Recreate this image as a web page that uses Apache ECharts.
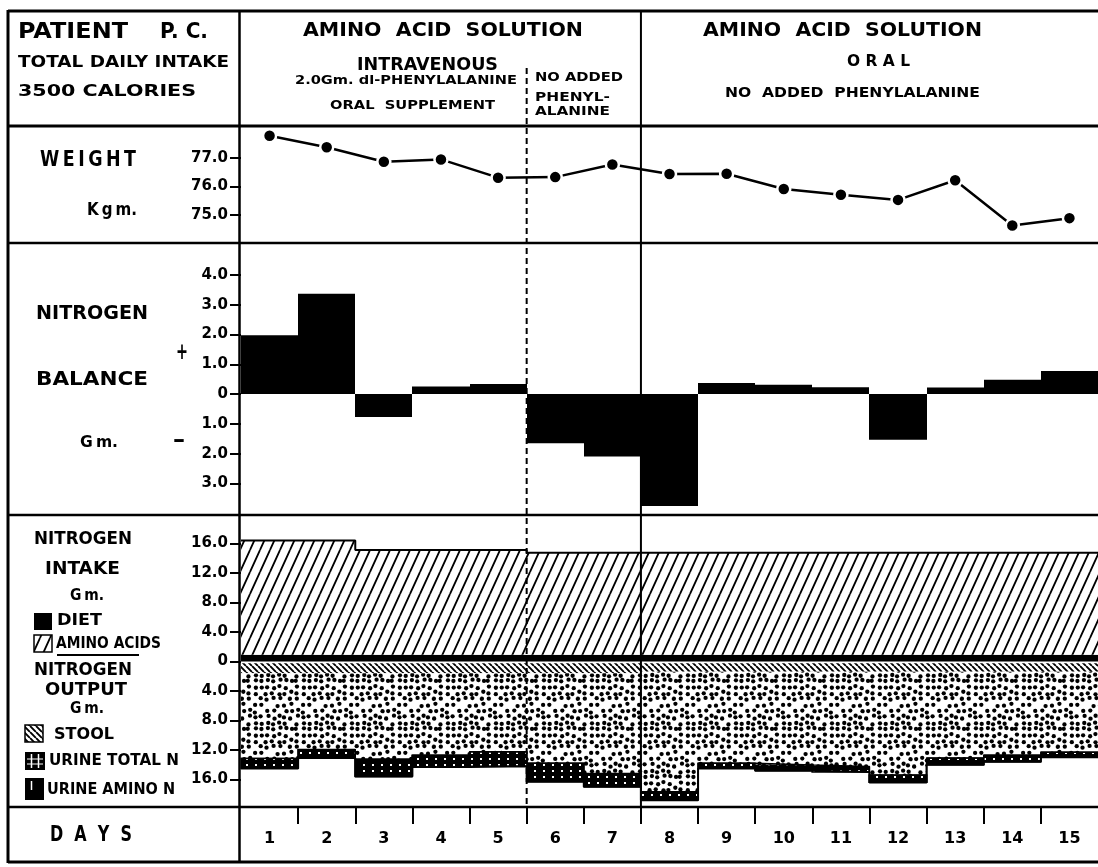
<!DOCTYPE html>
<html>
<head>
<meta charset="utf-8">
<script src="https://cdn.jsdelivr.net/npm/echarts@6.0.0/dist/echarts.min.js"></script>
<style>html,body{margin:0;padding:0;background:#fff;}#chart{width:1098px;height:867px;}</style>
</head>
<body>
<div id="chart"></div>
<script>
// ---------------- data ----------------
const days = [1, 2, 3, 4, 5, 6, 7, 8, 9, 10, 11, 12, 13, 14, 15];
const weightKg = [77.78, 77.38, 76.87, 76.95, 76.31, 76.33, 76.77, 76.44, 76.45, 75.91, 75.71, 75.53, 76.22, 74.63, 74.89];
const nitrogenBalanceGm = [1.97, 3.37, -0.77, 0.25, 0.34, -1.65, -2.1, -3.76, 0.37, 0.31, 0.23, -1.53, 0.22, 0.48, 0.77];
const dietN = [0.9, 0.9, 0.9, 0.9, 0.9, 0.9, 0.9, 0.9, 0.9, 0.9, 0.9, 0.9, 0.9, 0.9, 0.9];
const aminoAcidN = [15.5, 15.5, 14.2, 14.2, 14.2, 13.85, 13.85, 13.85, 13.85, 13.85, 13.85, 13.85, 13.85, 13.85, 13.85];
const stoolN = [1.6, 1.6, 1.6, 1.6, 1.6, 1.6, 1.6, 1.4, 1.4, 1.4, 1.4, 1.4, 1.4, 1.4, 1.4];
const urineTotalN = [12.9, 11.5, 14.0, 12.7, 12.6, 14.7, 15.4, 17.4, 13.1, 13.4, 13.6, 15.0, 12.6, 12.2, 11.6];
const urineAminoN = [1.35, 1.15, 2.35, 1.6, 1.95, 2.5, 1.8, 1.15, 0.7, 0.75, 0.75, 1.0, 0.9, 0.9, 0.7];
const weightTicks = [75, 76, 77];
const balanceTicks = [-3, -2, -1, 0, 1, 2, 3, 4];
const nitrogenTicks = [-16, -12, -8, -4, 0, 4, 8, 12, 16];
const dayBoundaries = [1, 2, 3, 4, 5, 6, 7, 8, 9, 10, 11, 12, 13, 14];
const noPheBoundary = 5;   // dashed divider (after day 5)
const oralBoundary = 7;    // solid divider (after day 7)

// ---------------- patterns ----------------
function makeCanvas(w, h, draw) {
  const c = document.createElement('canvas'); c.width = w; c.height = h;
  draw(c.getContext('2d'), w, h); return c;
}
function hash(a, b) { const s = Math.sin(a * 127.1 + b * 311.7) * 43758.5453; return s - Math.floor(s); }
const aminoHatch = makeCanvas(10, 22, (g, w, h) => {
  g.fillStyle = '#fff'; g.fillRect(0, 0, w, h);
  g.strokeStyle = '#000'; g.lineWidth = 1.8; g.beginPath();
  for (const o of [-w, 0, w]) { g.moveTo(o, h); g.lineTo(o + w, 0); }
  g.stroke();
});
const stoolHatch = makeCanvas(6, 6, (g, w, h) => {
  g.fillStyle = '#fff'; g.fillRect(0, 0, w, h);
  g.strokeStyle = '#000'; g.lineWidth = 1.9; g.beginPath();
  for (const o of [-w, 0, w]) { g.moveTo(o, 0); g.lineTo(o + w, h); }
  g.stroke();
});
const stipple = makeCanvas(48, 48, (g, w, h) => {
  g.fillStyle = '#fff'; g.fillRect(0, 0, w, h);
  g.fillStyle = '#000';
  const n = 8, s = w / n;
  for (let i = 0; i < n; i++) for (let j = 0; j < n; j++) {
    const h1 = hash(i, j), h2 = hash(j + 17, i + 5);
    if (h1 * h2 < 0.04) continue;
    const cx = i * s + s / 2 + (h1 - 0.5) * 3.2, cy = j * s + s / 2 + (h2 - 0.5) * 3.2;
    for (const ox of [-w, 0, w]) for (const oy of [-h, 0, h]) {
      g.beginPath(); g.arc(cx + ox, cy + oy, 2.15, 0, Math.PI * 2); g.fill();
    }
  }
});
const aminoBand = makeCanvas(9, 6, (g, w, h) => {
  g.fillStyle = '#000'; g.fillRect(0, 0, w, h);
  g.fillStyle = '#fff'; g.fillRect(3, 2, 2, 2);
});
const pat = c => ({ image: c, repeat: 'repeat' });

// ---------------- helpers ----------------
const FONT = '"DejaVu Sans"';
const absFmt = v => (v === 0 ? '0' : Math.abs(v).toFixed(1));
function xAx(gridIndex, extra) {
  return Object.assign({ type: 'value', gridIndex, min: 0, max: 15, show: false }, extra || {});
}
function yAx(gridIndex, min, max, ticks, fmt) {
  return {
    type: 'value', gridIndex, min, max,
    axisLine: { show: false }, splitLine: { show: false },
    axisTick: { show: true, customValues: ticks, length: 11, lineStyle: { color: '#000', width: 2 } },
    axisLabel: { customValues: ticks, formatter: fmt, color: '#000', fontSize: 15, fontWeight: 'bold', fontFamily: FONT, margin: 13 }
  };
}
function bandSeries(gridIndex, rows, fill, stroke) {
  return {
    type: 'custom', xAxisIndex: gridIndex, yAxisIndex: gridIndex, silent: true,
    dimensions: ['day', 'low', 'high'], encode: { x: 0, y: [1, 2] }, data: rows,
    renderItem: function (params, api) {
      const d = api.value(0), lo = api.value(1), hi = api.value(2);
      const a = api.coord([d, hi]), b = api.coord([d + 1, lo]);
      const x0 = Math.round(a[0]), x1 = Math.round(b[0]);
      return { type: 'rect', shape: { x: x0, y: a[1], width: x1 - x0, height: b[1] - a[1] },
        style: { fill: fill, stroke: stroke || null, lineWidth: stroke ? 1.3 : 0 } };
    }
  };
}
function stepLine(gridIndex, values, width) {
  const pts = values.map((v, i) => [i, v]);
  pts.push([values.length, values[values.length - 1]]);
  return { type: 'line', xAxisIndex: gridIndex, yAxisIndex: gridIndex, data: pts, step: 'end',
    symbol: 'none', silent: true, z: 4, lineStyle: { color: '#000', width: width } };
}

// derived layer boundaries
const intakeTop = dietN.map((d, i) => d + aminoAcidN[i]);
const dottedBottom = stoolN.map((s, i) => -(s + urineTotalN[i] - urineAminoN[i]));
const outputBottom = stoolN.map((s, i) => -(s + urineTotalN[i]));

const option = {
  animation: false,
  backgroundColor: '#fff',
  grid: [
    { left: 241, width: 865, top: 126, height: 117 },
    { left: 241, width: 865, top: 243, height: 272 },
    { left: 241, width: 865, top: 515, height: 292 },
    { left: 241, width: 865, top: 807, height: 55 }
  ],
  xAxis: [
    xAx(0), xAx(1), xAx(2),
    xAx(3, {
      show: true, position: 'top',
      axisLine: { show: false, onZero: false }, splitLine: { show: false },
      axisTick: { show: true, inside: true, customValues: dayBoundaries, length: 17, lineStyle: { color: '#000', width: 2 } },
      axisLabel: { inside: true, margin: 24, customValues: days.map(d => d - 0.5),
        formatter: v => String(days[Math.round(v - 0.5)]),
        color: '#000', fontSize: 16, fontWeight: 'bold', fontFamily: FONT }
    })
  ],
  yAxis: [
    yAx(0, 74.018, 78.123, weightTicks, v => v.toFixed(1)),
    yAx(1, -4.06, 5.07, balanceTicks, absFmt),
    yAx(2, -19.73, 19.86, nitrogenTicks, absFmt),
    { type: 'value', gridIndex: 3, min: 0, max: 1, show: false }
  ],
  series: [
    {
      type: 'line', xAxisIndex: 0, yAxisIndex: 0, z: 5,
      data: weightKg.map((v, i) => [i + 0.5, v]),
      symbol: 'circle', symbolSize: 13,
      itemStyle: { color: '#000', borderColor: '#fff', borderWidth: 2.5 },
      lineStyle: { color: '#000', width: 2.5 }
    },
    bandSeries(1, nitrogenBalanceGm.map((v, i) => [i, Math.min(0, v), Math.max(0, v)]), '#000'),
    bandSeries(2, dietN.map((v, i) => [i, 0, v]), '#000'),
    bandSeries(2, aminoAcidN.map((v, i) => [i, dietN[i], intakeTop[i]]), pat(aminoHatch)),
    bandSeries(2, stoolN.map((v, i) => [i, -v, -0.25]), pat(stoolHatch)),
    bandSeries(2, stoolN.map((v, i) => [i, dottedBottom[i], -v]), pat(stipple)),
    bandSeries(2, stoolN.map((v, i) => [i, outputBottom[i], dottedBottom[i]]), pat(aminoBand), '#000'),
    stepLine(2, intakeTop, 2),
    stepLine(2, dottedBottom, 1.5),
    stepLine(2, outputBottom, 2)
  ]
};

const chart = echarts.init(document.getElementById('chart'), null, { renderer: 'canvas' });
chart.setOption(option);

// ---------------- frame, dividers, labels ----------------
const mctx = document.createElement('canvas').getContext('2d');
function T(text, x0, x1, yc, cap) {
  const size = cap / 0.73;
  const font = 'bold ' + size.toFixed(1) + 'px ' + FONT;
  mctx.font = font;
  const mw = mctx.measureText(text).width;
  return { type: 'text', x: x0, y: yc, scaleX: (x1 - x0) / mw, z: 100, silent: true,
    style: { text: text, font: font, fill: '#000', align: 'left', verticalAlign: 'middle' } };
}
function L(x1, y1, x2, y2, w, dash, color) {
  return { type: 'line', z: 100, silent: true, shape: { x1, y1, x2, y2 },
    style: { stroke: color || '#000', lineWidth: w, lineDash: dash || null } };
}
function R(x, y, w, h, fill, stroke) {
  return { type: 'rect', z: 100, silent: true, shape: { x, y, width: w, height: h },
    style: { fill: fill, stroke: stroke || null, lineWidth: stroke ? 1.5 : 0 } };
}
const xPix = v => chart.convertToPixel({ xAxisIndex: 0 }, v);
const xDash = xPix(noPheBoundary), xSolid = xPix(oralBoundary);
const ts = '\u2009';

const g = [
  // frame
  L(8, 11, 1098, 11, 3), L(8, 862, 1098, 862, 3), L(8, 10, 8, 863, 3),
  L(239.5, 11, 239.5, 862, 2.5),
  L(8, 126, 1098, 126, 3), L(8, 243, 1098, 243, 2.5), L(8, 515, 1098, 515, 2.5), L(8, 807, 1098, 807, 2.5),
  L(xSolid, 11, xSolid, 807, 2),
  L(xDash, 68, xDash, 807, 2, [6, 4]),
  // header
  T('PATIENT', 18, 128, 33, 15), T('P. C.', 160, 208, 33, 15),
  T('TOTAL DAILY INTAKE', 18, 229, 63, 11),
  T('3500 CALORIES', 18, 196, 92, 12),
  T('AMINO  ACID  SOLUTION', 303, 583, 31, 14),
  T('INTRAVENOUS', 357, 498, 65, 13),
  T('2.0Gm. dl-PHENYLALANINE', 295, 517, 81, 9),
  T('ORAL  SUPPLEMENT', 330, 495, 106, 9),
  T('NO ADDED', 535, 623, 78, 9.5),
  T('PHENYL-', 535, 610, 98, 9.5),
  T('ALANINE', 535, 610, 112, 9.5),
  T('AMINO  ACID  SOLUTION', 703, 982, 31, 14),
  T('O R A L', 847, 910, 62, 11),
  T('NO  ADDED  PHENYLALANINE', 725, 980, 93, 10),
  // weight labels
  T(['W','E','I','G','H','T'].join(ts), 40, 136, 160, 16),
  T(['K','g','m.'].join(ts), 87, 137, 210, 13),
  // balance labels
  T('NITROGEN', 36, 148, 314, 14),
  T('BALANCE', 36, 148, 380, 14),
  T('+', 176, 188, 353, 17),
  T('\u2013', 173, 185, 441, 17),
  T(['G','m.'].join(ts), 80, 118, 443, 12),
  // intake / output labels
  T('NITROGEN', 34, 132, 539, 13),
  T('INTAKE', 45, 120, 569, 13),
  T(['G','m.'].join(ts), 70, 104, 596, 11),
  R(34, 613, 18, 17, '#000'),
  T('DIET', 57, 102, 621, 12),
  R(34, 635, 18, 17, pat(aminoHatch), '#000'),
  T('AMINO ACIDS', 56, 161, 644, 12),
  L(57, 655, 139, 655, 2),
  T('NITROGEN', 34, 132, 670, 13),
  T('OUTPUT', 45, 127, 690, 13),
  T(['G','m.'].join(ts), 70, 104, 709, 11),
  R(25, 725, 18, 17, pat(stoolHatch), '#000'),
  T('STOOL', 54, 114, 735, 12),
  R(25, 752, 20, 18, '#000'),
  L(31.5, 754, 31.5, 768, 1.5, null, '#fff'), L(38.5, 754, 38.5, 768, 1.5, null, '#fff'),
  L(27, 759, 43, 759, 1, null, '#fff'), L(27, 764, 43, 764, 1, null, '#fff'),
  T('URINE TOTAL N', 49, 179, 761, 12),
  R(25, 778, 19, 22, '#000'),
  L(31.5, 781, 31.5, 790, 1.5, null, '#fff'),
  T('URINE AMINO N', 47, 175, 790, 12),
  T(['D','A','Y','S'].join('  '), 50, 132, 836, 15)
];
chart.setOption({ graphic: g });
</script>
</body>
</html>
